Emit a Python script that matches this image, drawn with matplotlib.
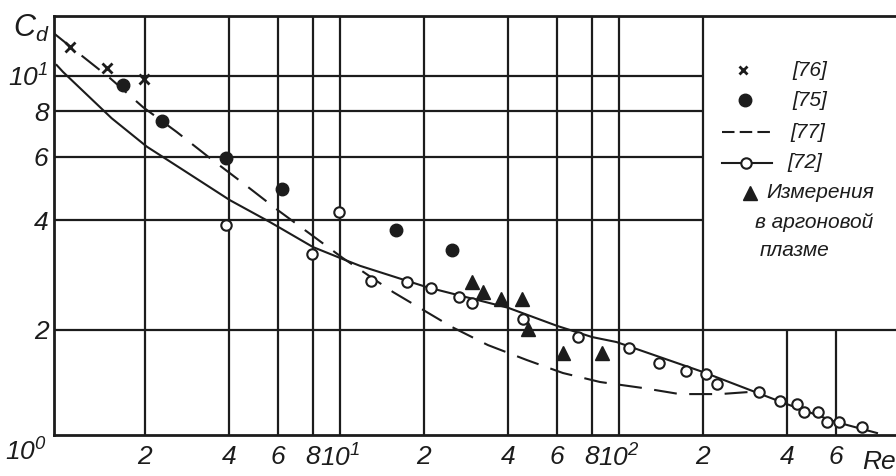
import matplotlib
matplotlib.use('Agg')
import matplotlib.pyplot as plt
from matplotlib.ticker import NullLocator, FixedLocator, FixedFormatter

FONT = ['Liberation Sans Narrow', 'Liberation Sans', 'DejaVu Sans']
plt.rcParams['font.family'] = FONT
plt.rcParams['mathtext.fontset'] = 'custom'
plt.rcParams['mathtext.rm'] = 'Liberation Sans Narrow:italic'
plt.rcParams['mathtext.it'] = 'Liberation Sans Narrow:italic'

INK = '#1c1c1c'

# ---- data ----
# [76] crosses
re_76 = [1.08, 1.46, 1.98]
cd_76 = [12.0, 10.5, 9.8]
# [75] filled circles
re_75 = [1.67, 2.30, 3.90, 6.20, 15.9, 25.2]
cd_75 = [9.45, 7.52, 5.94, 4.88, 3.76, 3.32]
# [77] dashed curve
re_77 = [0.944, 1.141, 1.498, 1.967, 2.60, 3.42, 4.49, 5.99, 10.25, 15.5,
         25.2, 33.9, 46.8, 63.0, 85.5, 122, 165, 230, 302]
cd_77 = [13.1, 11.65, 9.87, 8.21, 7.01, 5.94, 5.07, 4.27, 3.15, 2.54,
         2.035, 1.815, 1.65, 1.52, 1.436, 1.382, 1.33, 1.33, 1.35]
# [72] solid curve
re_72c = [0.965, 1.017, 1.519, 2.03, 2.74, 4.03, 5.61, 8.0, 10.25, 11.8,
          20.5, 40, 60, 80, 98, 200, 391, 600, 841]
cd_72c = [10.72, 10.26, 7.65, 6.39, 5.51, 4.55, 3.96, 3.38, 3.13, 3.00,
          2.62, 2.30, 2.05, 1.91, 1.85, 1.53, 1.256, 1.114, 1.039]
# [72] open circles
re_72 = [3.90, 9.92, 7.94, 12.9, 17.4, 21.2, 26.7, 29.7, 45.3, 71.3, 109,
         139, 174, 205, 224, 318, 378, 435, 460, 517, 557, 615, 743]
cd_72 = [3.89, 4.22, 3.23, 2.72, 2.71, 2.61, 2.46, 2.37, 2.14, 1.91, 1.78,
         1.62, 1.54, 1.51, 1.42, 1.35, 1.27, 1.25, 1.187, 1.187, 1.114, 1.114,
         1.079]
# argon plasma measurements (triangles)
re_ar = [29.7, 32.5, 37.8, 44.9, 47.2, 63.0, 86.9]
cd_ar = [2.71, 2.54, 2.43, 2.43, 2.01, 1.726, 1.726]

x_ticks = [2, 4, 6, 8, 10, 20, 40, 60, 80, 100, 200, 400, 600]
x_labels = ['2', '4', '6', '8', r'$\mathregular{10^1}$', '2', '4', '6', '8',
            r'$\mathregular{10^2}$', '2', '4', '6']
y_ticks = [2, 4, 6, 8, 10]
y_labels = ['2', '4', '6', '8', r'$\mathregular{10^1}$']

grid_h_short = [4, 6, 8, 10]
grid_h_full = [2]
grid_v_full = [2, 4, 6, 8, 10, 20, 40, 60, 80, 100, 200]
grid_v_short = [400, 600]

# ---- figure ----
fig = plt.figure(figsize=(8.96, 4.76), dpi=100)
ax = fig.add_axes([54 / 896, 1 - 435 / 476, 842 / 896, 419 / 476])
ax.set_xscale('log')
ax.set_yscale('log')
XL = (0.944, 984)
YL = (1.026, 14.63)
ax.set_xlim(*XL)
ax.set_ylim(*YL)

glw = 1.6
ax.hlines(grid_h_short, XL[0], 200, color=INK, lw=glw, zorder=1)
ax.hlines(grid_h_full, XL[0], XL[1], color=INK, lw=glw, zorder=1)
ax.vlines(grid_v_full, YL[0], YL[1], color=INK, lw=glw, zorder=1)
ax.vlines(grid_v_short, YL[0], 2, color=INK, lw=glw, zorder=1)

for s in ['top', 'left', 'bottom']:
    ax.spines[s].set_linewidth(2.0)
    ax.spines[s].set_color(INK)
ax.spines['right'].set_visible(False)

# curves
ax.plot(re_77, cd_77, color=INK, lw=1.5, dashes=(11, 6), zorder=3)
ax.plot(re_72c, cd_72c, color=INK, lw=1.5, zorder=3)
# markers
ax.plot(re_72, cd_72, 'o', ms=7.5, mfc='white', mec=INK, mew=1.5, zorder=4)
ax.plot(re_75, cd_75, 'o', ms=9, color=INK, zorder=4)
ax.plot(re_76, cd_76, 'x', ms=6.5, mec=INK, mew=2, zorder=4)
ax.plot(re_ar, cd_ar, '^', ms=10, color=INK, zorder=4)

# ticks
ax.xaxis.set_minor_locator(NullLocator())
ax.yaxis.set_minor_locator(NullLocator())
ax.xaxis.set_major_locator(FixedLocator(x_ticks))
ax.xaxis.set_major_formatter(FixedFormatter(x_labels))
ax.yaxis.set_major_locator(FixedLocator(y_ticks))
ax.yaxis.set_major_formatter(FixedFormatter(y_labels))
ax.tick_params(axis='both', length=0, labelsize=19, colors=INK)
ax.tick_params(axis='x', pad=7)
ax.tick_params(axis='y', pad=4)
for lab in ax.get_xticklabels() + ax.get_yticklabels():
    lab.set_fontstyle('italic')

# corner labels
fig.text(26 / 896, 1 - 452 / 476, r'$\mathregular{10^0}$', fontsize=19,
         ha='center', va='center', color=INK, style='italic')
fig.text(31 / 896, 1 - 28 / 476, r'$\mathregular{C_d}$', fontsize=22,
         ha='center', va='center', color=INK, style='italic')
fig.text(862 / 896, 1 - 462 / 476, 'Re', fontsize=19,
         ha='left', va='center', color=INK, style='italic')

# legend (manual)
def A(px, py):
    return ((px - 54) / 842, (435 - py) / 419)

tr = ax.transAxes
lx, ly = A(743, 70)
ax.plot([lx], [ly], 'x', ms=6, mec=INK, mew=2, transform=tr, clip_on=False)
ax.text(*A(792, 70), '[76]', transform=tr, fontsize=15, style='italic',
        va='center', ha='left', color=INK)
lx, ly = A(745, 100)
ax.plot([lx], [ly], 'o', ms=9, color=INK, transform=tr, clip_on=False)
ax.text(*A(792, 100), '[75]', transform=tr, fontsize=15, style='italic',
        va='center', ha='left', color=INK)
x0, ly = A(722, 132)
x1, _ = A(774, 132)
ax.plot([x0, x1], [ly, ly], color=INK, lw=1.5, dashes=(6, 2.5), transform=tr)
ax.text(*A(790, 132), '[77]', transform=tr, fontsize=15, style='italic',
        va='center', ha='left', color=INK)
x0, ly = A(722, 163)
x1, _ = A(772, 163)
xc, _ = A(746, 163)
ax.plot([x0, x1], [ly, ly], color=INK, lw=1.5, transform=tr)
ax.plot([xc], [ly], 'o', ms=7.5, mfc='white', mec=INK, mew=1.5, transform=tr)
ax.text(*A(787, 163), '[72]', transform=tr, fontsize=15, style='italic',
        va='center', ha='left', color=INK)
lx, ly = A(750, 193)
ax.plot([lx], [ly], '^', ms=10, color=INK, transform=tr)
ax.text(*A(766, 193), 'Измерения', transform=tr, fontsize=15, style='italic',
        va='center', ha='left', color=INK)
ax.text(*A(755, 222), 'в аргоновой', transform=tr, fontsize=15,
        style='italic', va='center', ha='left', color=INK)
ax.text(*A(760, 250), 'плазме', transform=tr, fontsize=15, style='italic',
        va='center', ha='left', color=INK)

fig.savefig('out.png', dpi=100)
